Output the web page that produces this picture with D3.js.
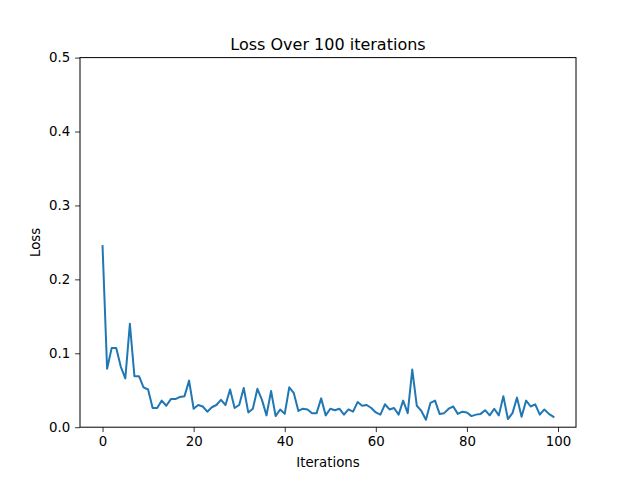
<!DOCTYPE html>
<html><head><meta charset="utf-8">
<script src="https://cdn.jsdelivr.net/npm/d3@7"></script>
<style>body{margin:0;background:#fff}text{font-family:"DejaVu Sans",sans-serif;fill:#000}</style>
</head><body>
<svg id="c" width="640" height="480"></svg>
<script>
const iterations = d3.range(100);
const loss = [0.245,0.079,0.107,0.107,0.082,0.066,0.140,0.069,0.069,0.054,
0.051,0.026,0.026,0.036,0.029,0.038,0.038,0.041,0.042,0.063,
0.025,0.030,0.028,0.021,0.027,0.030,0.037,0.030,0.051,0.026,
0.030,0.053,0.020,0.025,0.052,0.037,0.016,0.049,0.015,0.024,
0.018,0.054,0.046,0.022,0.025,0.024,0.019,0.019,0.039,0.016,
0.025,0.023,0.025,0.017,0.024,0.021,0.034,0.029,0.030,0.026,
0.020,0.017,0.031,0.024,0.026,0.017,0.036,0.019,0.078,0.029,
0.022,0.010,0.033,0.036,0.018,0.019,0.025,0.028,0.018,0.021,
0.020,0.015,0.017,0.018,0.023,0.016,0.025,0.016,0.042,0.011,
0.019,0.040,0.014,0.036,0.028,0.031,0.017,0.024,0.018,0.014];
const xTicks = [0,20,40,60,80,100];
const yTicks = [0.0,0.1,0.2,0.3,0.4,0.5];

const L=80,R=576,T=57.6,B=427.2;
const svg=d3.select("#c");
const x=d3.scaleLinear().domain([-4.95,103.95]).range([L,R]);
const y=d3.scaleLinear().domain([0,0.5]).range([B,T]);

const line=d3.line().x((d,i)=>x(iterations[i])).y(d=>y(d));
svg.append("path").datum(loss).attr("d",line).attr("fill","none")
  .attr("stroke","#1f77b4").attr("stroke-width",2).attr("stroke-linejoin","round").attr("stroke-linecap","square");

svg.append("rect").attr("x",L).attr("y",T).attr("width",R-L).attr("height",B-T)
  .attr("fill","none").attr("stroke","#000").attr("stroke-width",1);

const xa=svg.append("g").attr("transform",`translate(0,${B})`)
  .call(d3.axisBottom(x).tickValues(xTicks).tickSize(4.9).tickPadding(4.9).tickFormat(d3.format("d")));
const ya=svg.append("g").attr("transform",`translate(${L},0)`)
  .call(d3.axisLeft(y).tickValues(yTicks).tickSize(4.9).tickPadding(4.9).tickFormat(d3.format(".1f")));
[xa,ya].forEach(a=>{a.select(".domain").remove();a.selectAll("line").attr("stroke","#000").attr("stroke-width",0.8);
  a.selectAll("text").attr("font-family","DejaVu Sans").attr("font-size",13.33).attr("fill","#000");});

svg.append("text").attr("x",(L+R)/2).attr("y",T-8).attr("text-anchor","middle").attr("font-size",16).text("Loss Over 100 iterations");
svg.append("text").attr("x",(L+R)/2).attr("y",467).attr("text-anchor","middle").attr("font-size",13.33).text("Iterations");
svg.append("text").attr("transform",`translate(40,${(T+B)/2}) rotate(-90)`).attr("text-anchor","middle").attr("font-size",13.33).text("Loss");
</script>
</body></html>
